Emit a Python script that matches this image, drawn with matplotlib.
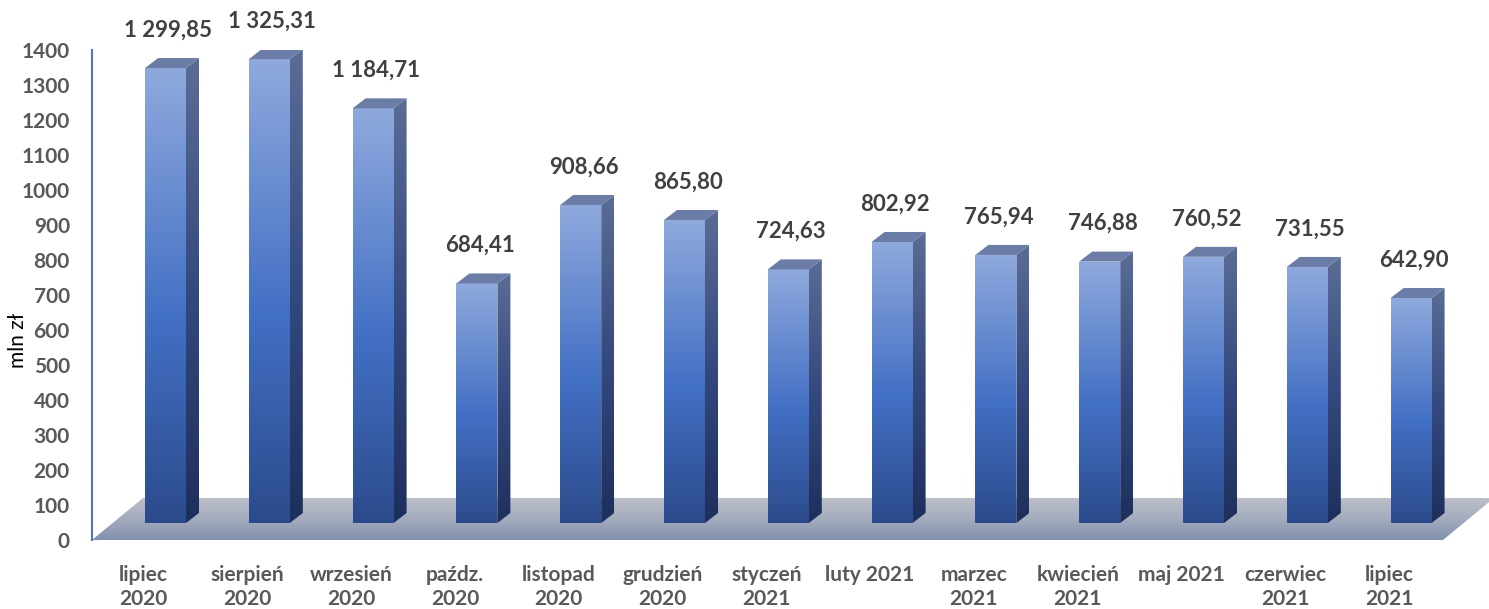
import numpy as np
import matplotlib
matplotlib.use("Agg")
import matplotlib.pyplot as plt
from matplotlib.patches import Polygon
from matplotlib.colors import LinearSegmentedColormap

# ---- data ----
categories = ["lipiec\n2020", "sierpień\n2020", "wrzesień\n2020", "paźdz.\n2020",
              "listopad\n2020", "grudzień\n2020", "styczeń\n2021", "luty 2021",
              "marzec\n2021", "kwiecień\n2021", "maj 2021", "czerwiec\n2021",
              "lipiec\n2021"]
values = [1299.85, 1325.31, 1184.71, 684.41, 908.66, 865.80, 724.63,
          802.92, 765.94, 746.88, 760.52, 731.55, 642.90]
value_labels = ["1 299,85", "1 325,31", "1 184,71", "684,41", "908,66", "865,80",
                "724,63", "802,92", "765,94", "746,88", "760,52", "731,55", "642,90"]
yticks = list(range(0, 1401, 100))
ylabel = "mln zł"

# ---- figure / axes geometry (pixels) ----
W, H = 1489, 609
fig = plt.figure(figsize=(W / 100, H / 100), dpi=100)
ax_left, ax_bottom, ax_top = 92, 540, 50
ax = fig.add_axes([ax_left / W, (H - ax_bottom) / H, (W - ax_left) / W, (ax_bottom - ax_top) / H])
px_per_cat = 103.8
first_center_px = 165.5
x0 = (ax_left - first_center_px) / px_per_cat
x1 = (W - first_center_px) / px_per_cat
ax.set_xlim(x0, x1)
ax.set_ylim(0, 1400)
py = (ax_bottom - ax_top) / 1400.0  # px per unit

def dxu(px):
    return px / px_per_cat

def dyu(px):
    return px / py

FONT = ["Lato", "DejaVu Sans"]
GRAY = "#595959"

# depth settings
base_off_x = dxu(-22)
floor_dx, floor_dy = dxu(51), dyu(42)
bar_dx, bar_dy = dxu(13), dyu(10)
bar_w = dxu(41)

x = np.arange(len(values))
bar_base = dyu(17)

# ---- floor ----
floor_front_l = x0
floor_front_r = (1443 - first_center_px) / px_per_cat
floor_poly = [(floor_front_l, 0), (floor_front_r, 0),
              (floor_front_r + floor_dx, floor_dy), (floor_front_l + floor_dx, floor_dy)]
floor_patch = Polygon(floor_poly, closed=True, facecolor="none", edgecolor="none",
                      clip_on=False)
ax.add_patch(floor_patch)
floor_cmap = LinearSegmentedColormap.from_list("floor", ["#8391b0", "#a3abbd", "#bcc0c9"])
grad = np.linspace(0, 1, 256).reshape(-1, 1)
im = ax.imshow(grad, cmap=floor_cmap, aspect="auto", origin="lower",
               extent=(floor_front_l, floor_front_r + floor_dx, 0, floor_dy),
               zorder=1, clip_on=True)
im.set_clip_path(floor_patch)

# ---- bars ----
front_cmap = LinearSegmentedColormap.from_list(
    "front", [(0.0, "#2c4b8c"), (0.45, "#4270c4"), (1.0, "#8fa9dd")])
side_cmap = LinearSegmentedColormap.from_list(
    "side", [(0.0, "#1d2f5c"), (0.5, "#34497e"), (1.0, "#5b6d96")])
top_color = "#6b7da6"

bars = ax.bar(x, values, width=bar_w, bottom=bar_base, color="none",
              edgecolor="none", zorder=3)
for xi, v, b in zip(x, values, bars):
    xl, xr = xi - bar_w / 2, xi + bar_w / 2
    top = bar_base + v
    g = ax.imshow(grad, cmap=front_cmap, aspect="auto", origin="lower",
                  extent=(xl, xr, bar_base, top), zorder=3)
    g.set_clip_path(b)
    side = Polygon([(xr, bar_base), (xr + bar_dx, bar_base + bar_dy),
                    (xr + bar_dx, top + bar_dy), (xr, top)], closed=True,
                   facecolor="none", edgecolor="none")
    ax.add_patch(side)
    gs = ax.imshow(grad, cmap=side_cmap, aspect="auto", origin="lower",
                   extent=(xr, xr + bar_dx, bar_base, top + bar_dy), zorder=3)
    gs.set_clip_path(side)
    ax.add_patch(Polygon([(xl, top), (xr, top), (xr + bar_dx, top + bar_dy),
                          (xl + bar_dx, top + bar_dy)], closed=True,
                         facecolor=top_color, edgecolor="none", zorder=4))

for xi, v, lab in zip(x, values, value_labels):
    ax.text(xi + dxu(3), bar_base + v + bar_dy + dyu(28), lab, ha="center", va="center",
            fontsize=16, fontweight="bold", color="#404040", family=FONT, clip_on=False)

# ---- axes styling ----
ax.set_xlim(x0, x1)
ax.set_ylim(0, 1400)
for s in ["top", "right", "bottom"]:
    ax.spines[s].set_visible(False)
ax.spines["left"].set_color("#4a78d0")
ax.spines["left"].set_linewidth(1.5)
ax.set_yticks(yticks)
ax.set_yticklabels([str(t) for t in yticks], fontsize=15, fontweight="bold",
                   color=GRAY, family=FONT)
ax.tick_params(axis="y", length=0, pad=16)
ax.set_xticks(x + base_off_x)
ax.set_xticklabels(categories, fontsize=15, fontweight="bold", color=GRAY,
                   family=FONT, linespacing=1.25)
ax.tick_params(axis="x", length=0, pad=18)
ax.patch.set_alpha(0)

fig.text(18 / W, 1 - 340 / H, ylabel, rotation=90, ha="center", va="center",
         fontsize=15, family=FONT, color="black")

fig.savefig("out.png", dpi=100)
